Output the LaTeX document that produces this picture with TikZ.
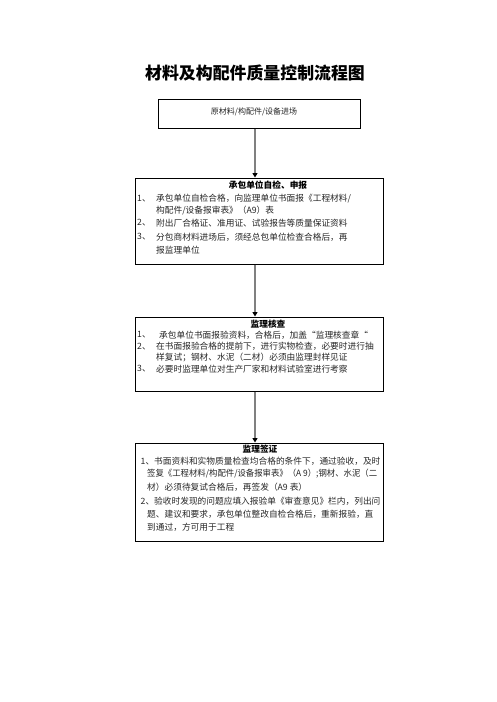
\documentclass[tikz,border=0pt]{standalone}
\usepackage{fontspec}
\setmainfont{Noto Sans CJK SC}
\usetikzlibrary{arrows.meta}
\begin{document}
\begin{tikzpicture}[x=1pt,y=-1pt,
  box/.style={draw=black,line width=1pt,inner sep=0pt},
  body/.style={anchor=west,inner sep=0pt,text=black!85,font=\fontsize{8.7}{10}\selectfont},
  head/.style={inner sep=0pt,font=\fontsize{8.7}{10}\selectfont\bfseries},
  flow/.style={draw=black!50,line width=1.6pt,-{Triangle[color=black,length=4.5pt,width=5pt]}}
]
\useasboundingbox (0,0) rectangle (496,702);
% title
\node[inner sep=0pt,font=\fontsize{16.9}{18}\selectfont\bfseries] (title) at (255,73) {材料及构配件质量控制流程图};
% boxes
\node[box,minimum width=202pt,minimum height=29pt] (b1) at (259,113.5) {};
\node[box,minimum width=248pt,minimum height=86pt] (b2) at (259,221) {};
\node[box,minimum width=248pt,minimum height=74pt] (b3) at (259,354) {};
\node[box,minimum width=248pt,minimum height=98pt] (b4) at (259,492) {};
% box 1
\node[inner sep=0pt,text=black!85,font=\fontsize{8}{10}\selectfont] (t1) at (254,112) {原材料/构配件/设备进场};
% box 2
\node[head] (h2) at (268,185) {承包单位自检、申报};
\node[body] (b2n1) at (137,199) {1、};
\node[body] (b2l1) at (156,199) {承包单位自检合格，向监理单位书面报《工程材料/};
\node[body] (b2l2) at (156,210.5) {构配件/设备报审表》（A9）表};
\node[body] (b2n2) at (137,223) {2、};
\node[body] (b2l3) at (156,223) {附出厂合格证、准用证、试验报告等质量保证资料};
\node[body] (b2n3) at (137,237) {3、};
\node[body] (b2l4) at (156,237) {分包商材料进场后，须经总包单位检查合格后，再};
\node[body] (b2l5) at (156,250) {报监理单位};
% box 3
\node[head] (h3) at (268,324) {监理核查};
\node[body] (b3n1) at (137,335) {1、};
\node[body] (b3l1) at (159,335) {承包单位书面报验资料，合格后，加盖“监理核查章“};
\node[body] (b3n2) at (137,346.5) {2、};
\node[body] (b3l2) at (156,346.5) {在书面报验合格的提前下，进行实物检查，必要时进行抽};
\node[body] (b3l3) at (156,357.5) {样复试；钢材、水泥（二材）必须由监理封样见证};
\node[body] (b3n3) at (137,369) {3、};
\node[body] (b3l4) at (156,369) {必要时监理单位对生产厂家和材料试验室进行考察};
% box 4
\node[head] (h4) at (260,449) {监理签证};
\node[body] (b4l1) at (140.5,461) {1、书面资料和实物质量检查均合格的条件下，通过验收，及时};
\node[body] (b4l2) at (147,474) {\resizebox{230pt}{\height}{签复《工程材料/构配件/设备报审表》（A 9）;钢材、水泥（二}};
\node[body] (b4l3) at (147,487) {材）必须待复试合格后，再签发（A9 表）};
\node[body] (b4l4) at (140.5,501) {2、验收时发现的问题应填入报验单《审查意见》栏内，列出问};
\node[body] (b4l5) at (147,514) {题、建议和要求，承包单位整改自检合格后，重新报验，直};
\node[body] (b4l6) at (147,527) {到通过，方可用于工程};
% connectors
\coordinate (ax) at (255,0);
\draw[flow] (b1.south -| ax) -- (b2.north -| ax);
\draw[flow] (b2.south -| ax) -- (b3.north -| ax);
\draw[flow] (b3.south -| ax) -- (b4.north -| ax);
\end{tikzpicture}
\end{document}
